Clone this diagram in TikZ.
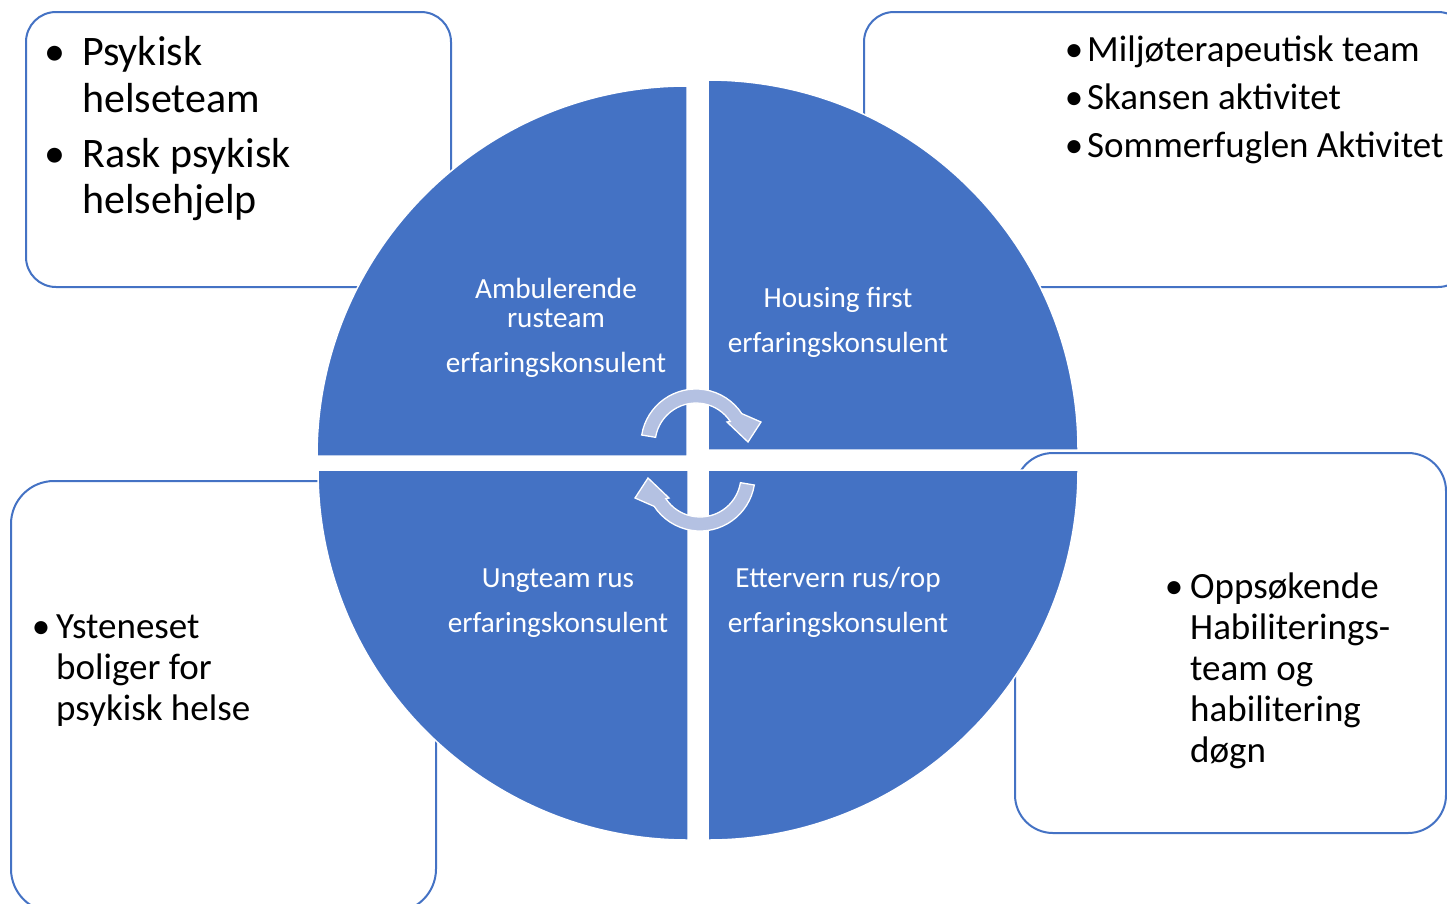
\documentclass[tikz,border=0pt]{standalone}
\usepackage{fontspec}
\setmainfont{Carlito}
\definecolor{accblue}{HTML}{4472C4}
\definecolor{arrowfill}{RGB}{180,193,226}
\tikzset{
  box/.style={draw=accblue, line width=2pt, fill=white},
  quad/.style={fill=accblue, draw=white, line width=1.5pt},
  cyc/.style={fill=arrowfill, draw=white, line width=1.3pt, line join=miter},
  bigtxt/.style={anchor=base west, inner sep=0pt, text=black, font=\fontsize{42}{47}\selectfont},
  bigbul/.style={anchor=base, inner sep=0pt, text=black, font=\fontsize{42}{47}\selectfont},
  midtxt/.style={anchor=base west, inner sep=0pt, text=black, font=\fontsize{37}{41}\selectfont},
  midbul/.style={anchor=base, inner sep=0pt, text=black, font=\fontsize{37}{41}\selectfont},
  qtxt/.style={anchor=base, inner sep=0pt, text=white, font=\fontsize{29.2}{32}\selectfont}
}
\begin{document}
\begin{tikzpicture}[x=1pt,y=-1pt]
\useasboundingbox (0,0) rectangle (1447,903);
\fill[white] (0,0) rectangle (1447,903);

% surrounding boxes
\draw[box, rounded corners=30pt] (26,12) rectangle (451,287);
\draw[box, rounded corners=30pt] (864,12) rectangle (1468,287);
\draw[box, rounded corners=43pt] (11,481) rectangle (436,912);
\draw[box, rounded corners=38pt] (1015,453) rectangle (1446,833);

% quadrants
\draw[quad] (687,456) -- (317,456) arc[start angle=180, end angle=270, radius=370] -- cycle;
\draw[quad] (708,450) -- (708,80) arc[start angle=270, end angle=360, radius=370] -- cycle;
\draw[quad] (708,470) -- (1078,470) arc[start angle=0, end angle=90, radius=370] -- cycle;
\draw[quad] (688,470) -- (688,840) arc[start angle=90, end angle=180, radius=370] -- cycle;

% cycle arrows
\draw[cyc] (641.7,435) arc[start angle=189.4, end angle=326.5, radius=55]
  -- (761,422) -- (748,442) -- (727,422) -- (730.2,421.4)
  arc[start angle=326.5, end angle=189.4, radius=41] -- cycle;
\draw[cyc] (754.3,485) arc[start angle=9.4, end angle=146.5, radius=55]
  -- (635,498) -- (648,478) -- (669,498) -- (665.8,498.6)
  arc[start angle=146.5, end angle=9.4, radius=41] -- cycle;

% quadrant texts
\node[qtxt] (q1a) at (556,298) {Ambulerende};
\node[qtxt] (q1b) at (556,327) {rusteam};
\node[qtxt] (q1c) at (556,372) {erfaringskonsulent};
\node[qtxt] (q2a) at (838,307) {Housing first};
\node[qtxt] (q2b) at (838,352) {erfaringskonsulent};
\node[qtxt] (q3a) at (558,587) {Ungteam rus};
\node[qtxt] (q3b) at (558,632) {erfaringskonsulent};
\node[qtxt] (q4a) at (838,587) {Ettervern rus/rop};
\node[qtxt] (q4b) at (838,632) {erfaringskonsulent};

% top-left box
\node[bigbul] (tlb1) at (55,65) {•};
\node[bigtxt] (tl1) at (82,65) {Psykisk};
\node[bigtxt] (tl2) at (82,112) {helseteam};
\node[bigbul] (tlb2) at (55,167) {•};
\node[bigtxt] (tl3) at (82,167) {Rask psykisk};
\node[bigtxt] (tl4) at (82,213) {helsehjelp};

% top-right box
\node[midbul] (trb1) at (1074,61) {•};
\node[midtxt] (tr1) at (1087,61) {Miljøterapeutisk team};
\node[midbul] (trb2) at (1074,109) {•};
\node[midtxt] (tr2) at (1087,109) {Skansen aktivitet};
\node[midbul] (trb3) at (1074,157) {•};
\node[midtxt] (tr3) at (1087,157) {Sommerfuglen Aktivitet};

% bottom-left box
\node[midbul] (blb1) at (41,638) {•};
\node[midtxt] (bl1) at (56,638) {Ysteneset};
\node[midtxt] (bl2) at (56,679) {boliger for};
\node[midtxt] (bl3) at (56,720) {psykisk helse};

% bottom-right box
\node[midbul] (brb1) at (1174,598) {•};
\node[midtxt] (br1) at (1190,598) {Oppsøkende};
\node[midtxt] (br2) at (1190,639) {Habiliterings-};
\node[midtxt] (br3) at (1190,680) {team og};
\node[midtxt] (br4) at (1190,721) {habilitering};
\node[midtxt] (br5) at (1190,762) {døgn};
\end{tikzpicture}
\end{document}
